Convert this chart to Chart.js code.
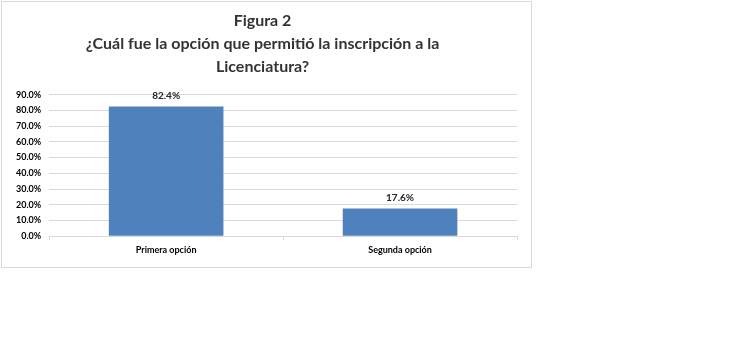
<!DOCTYPE html>
<html>
<head>
<meta charset="utf-8">
<script src="https://cdn.jsdelivr.net/npm/chart.js@4"></script>
<style>
  body { margin: 0; background: #fff; }
  .chart-container {
    position: absolute; left: 1px; top: 1px;
    width: 529px; height: 265px;
    border: 1px solid #d9d9d9; background: #fff;
  }
</style>
</head>
<body>
<div class="chart-container"><canvas id="chart"></canvas></div>
<script>
// data
const categories = ['Primera opción', 'Segunda opción'];
const values = [82.4, 17.6];
const titleLines = ['Figura 2', '¿Cuál fue la opción que permitió la inscripción a la', 'Licenciatura?'];

const barColor = '#4f81bd';

// draws the value above each bar
const valueLabels = {
  id: 'valueLabels',
  afterDatasetsDraw(chart) {
    const ctx = chart.ctx;
    const meta = chart.getDatasetMeta(0);
    ctx.save();
    ctx.font = 'bold 10px Lato';
    ctx.fillStyle = '#262626';
    ctx.textAlign = 'center';
    ctx.textBaseline = 'bottom';
    meta.data.forEach((bar, i) => {
      ctx.fillText(values[i].toFixed(1) + '%', bar.x, bar.y - 6);
    });
    ctx.restore();
  }
};

new Chart(document.getElementById('chart').getContext('2d'), {
  type: 'bar',
  data: {
    labels: categories,
    datasets: [{
      data: values,
      backgroundColor: barColor,
      borderWidth: 0,
      categoryPercentage: 0.49,
      barPercentage: 1
    }]
  },
  options: {
    responsive: true,
    maintainAspectRatio: false,
    animation: false,
    layout: { padding: { left: 6, right: 14, top: 0, bottom: 8 } },
    plugins: {
      legend: { display: false },
      tooltip: { enabled: false },
      title: {
        display: true,
        text: titleLines,
        color: '#333333',
        font: { family: 'Lato', size: 16, weight: 'bold', lineHeight: 1.45 },
        padding: { top: 7, bottom: 16 }
      }
    },
    scales: {
      x: {
        offset: true,
        grid: {
          display: true,
          drawOnChartArea: false,
          offset: true,
          color: '#d9d9d9',
          tickLength: 4
        },
        border: { color: '#d9d9d9' },
        ticks: { color: '#000', font: { family: 'Lato', size: 9, weight: 'bold' }, padding: 4 }
      },
      y: {
        min: 0,
        max: 90,
        ticks: {
          stepSize: 10,
          color: '#000',
          font: { family: 'Lato', size: 9, weight: 'bold' },
          padding: 8,
          callback: v => v.toFixed(1) + '%'
        },
        grid: { color: '#d9d9d9', drawTicks: false },
        border: { display: false }
      }
    }
  },
  plugins: [valueLabels]
});
</script>
</body>
</html>
